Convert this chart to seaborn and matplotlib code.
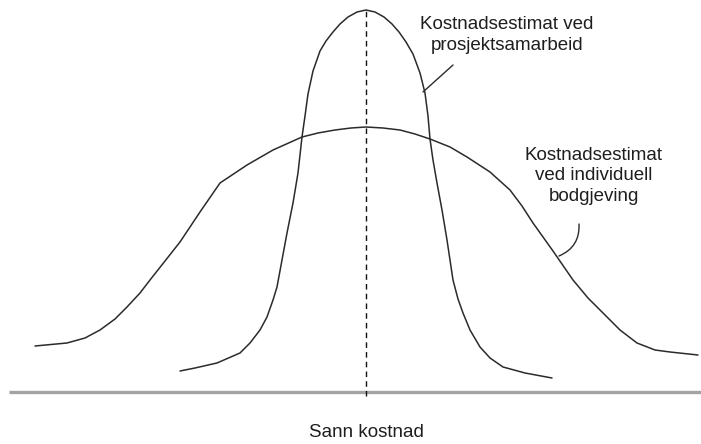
import numpy as np
import pandas as pd
import matplotlib
matplotlib.use("Agg")
import matplotlib.pyplot as plt
import seaborn as sns

# Deviation from the true cost (x) and curve height (y)
wide_x = [-331, -299, -281, -266, -251, -239, -226, -216, -201, -186, -166, -146, -131, -119,
          -93, -64, -48, -31, -15, 0, 17, 34, 49, 64, 84, 101, 124, 144, 156, 167, 187, 207,
          222, 237, 254, 271, 289, 304, 332]
wide_y = [46, 49, 54, 62, 73, 85, 99, 112, 131, 150, 180, 209, 219, 227,
          242, 255, 259, 262, 264, 265, 264, 262, 258, 253, 245, 235, 220, 202, 186, 169, 141, 112,
          94, 79, 62, 49, 42, 40, 37]

narrow_x = [-186, -171, -149, -126, -116, -106, -99, -93, -89, -84, -79, -73, -68, -64, -61,
            -58, -53, -46, -40, -33, -26, -18, -9, 0, 9, 18, 26, 33, 40, 47, 54, 59, 62, 64,
            67, 71, 76, 81, 87, 92, 97, 104, 114, 124, 137, 159, 186]
narrow_y = [21, 24, 29, 39, 49, 62, 75, 92, 105, 132, 159, 189, 219, 255, 276,
            298, 321, 341, 351, 360, 368, 375, 380, 382, 380, 375, 368, 360, 350, 338, 319, 299, 276, 253,
            232, 209, 182, 152, 112, 93, 79, 62, 45, 34, 25, 19, 14]

label_narrow = "Kostnadsestimat ved\nprosjektsamarbeid"
label_wide = "Kostnadsestimat\nved individuell\nbodgjeving"
label_axis = "Sann kostnad"

curve_color = "#2b2b2b"
text_color = "#1e1e1e"


def main():
    sns.set_style("white")
    plt.rcParams['font.family'] = ['Liberation Sans', 'DejaVu Sans']

    fig = plt.figure(figsize=(7.01, 4.44), dpi=100)
    ax = fig.add_axes([0, 0, 1, 1])

    wide = pd.DataFrame({"x": wide_x, "y": wide_y})
    narrow = pd.DataFrame({"x": narrow_x, "y": narrow_y})

    sns.lineplot(data=wide, x="x", y="y", ax=ax, color=curve_color, lw=1.1,
                 estimator=None, sort=False)
    sns.lineplot(data=narrow, x="x", y="y", ax=ax, color=curve_color, lw=1.1,
                 estimator=None, sort=False)

    # baseline and true-cost marker
    ax.plot([-357, 335], [0, 0], color="#a3a3a3", lw=2.4, solid_capstyle="butt")
    ax.plot([0, 0], [-4, max(narrow_y)], color="#111111", lw=1.0, ls=(0, (4, 3)))

    # labels with leader lines
    ax.text(141, 357, label_narrow, ha="center", va="center", fontsize=13.5,
            color=text_color, linespacing=1.3)
    ax.plot([87, 57], [327, 300], color=curve_color, lw=1.0)

    ax.text(228, 216, label_wide, ha="center", va="center", fontsize=13.5,
            color=text_color, linespacing=1.3)
    ax.annotate("", xy=(193, 136), xytext=(213, 168),
                arrowprops=dict(arrowstyle="-", color=curve_color, lw=1.0,
                                shrinkA=0, shrinkB=0, connectionstyle="arc3,rad=-0.35"))

    ax.text(0, -40, label_axis, ha="center", va="center", fontsize=13.5, color=text_color)

    ax.set_xlim(-366, 335)
    ax.set_ylim(-52, 392)
    ax.set_xlabel("")
    ax.set_ylabel("")
    ax.axis("off")

    fig.savefig("out.png", dpi=100)


if __name__ == '__main__':
    main()
